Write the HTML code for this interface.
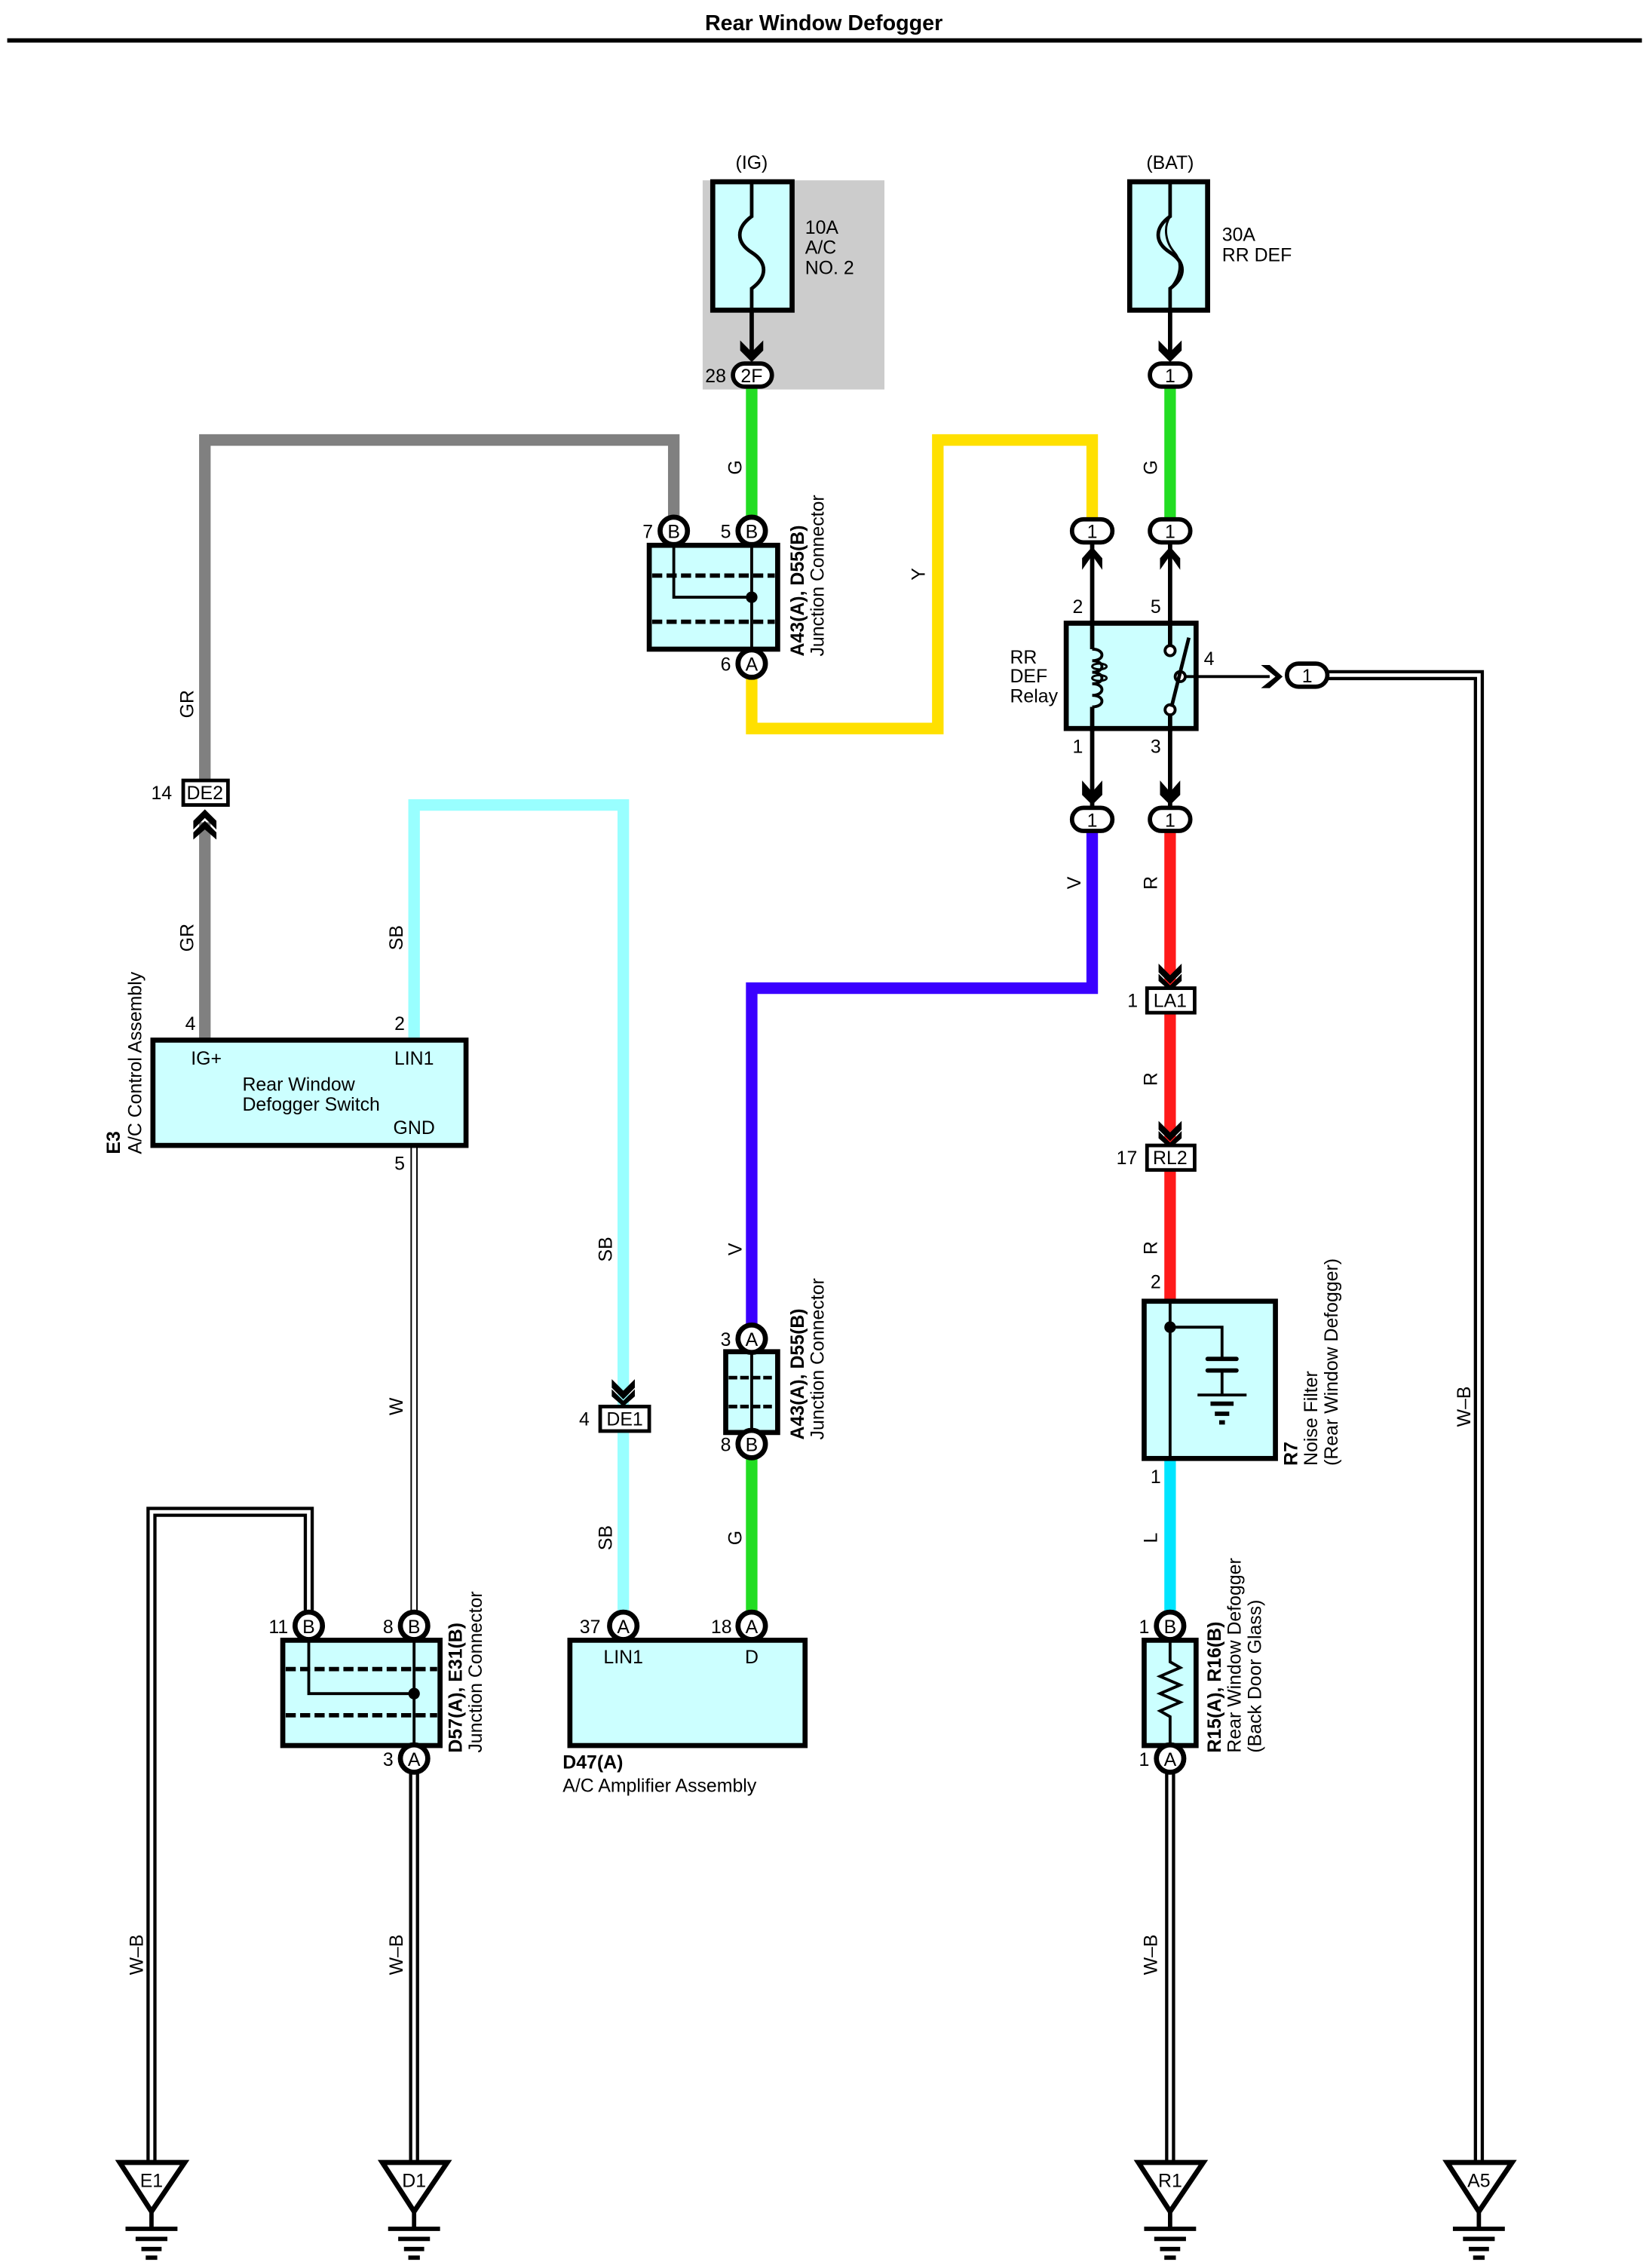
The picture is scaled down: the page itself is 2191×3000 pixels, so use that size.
<!DOCTYPE html>
<html><head><meta charset="utf-8"><style>
html,body{margin:0;padding:0;background:#fff}
svg{display:block}
text{font-family:"Liberation Sans",sans-serif;font-size:13px;fill:#000}
.b{font-weight:bold}
.c{text-anchor:middle}
</style></head><body>
<svg width="2191" height="3000" viewBox="0 0 1145 1568" preserveAspectRatio="none" xmlns="http://www.w3.org/2000/svg">
<rect width="1145" height="1568" fill="#fff"/>
<text x="571" y="21" class="b c" style="font-size:15px">Rear Window Defogger</text>
<line x1="5" y1="28" x2="1138" y2="28" stroke="#000" stroke-width="3"/>

<!-- IG fuse -->
<rect x="487" y="125" width="126" height="145" fill="#cccccc"/>
<text x="521" y="117" class="c">(IG)</text>
<rect x="494" y="126" width="55" height="89" fill="#ccffff" stroke="#000" stroke-width="3.5"/>
<path d="M521 126 V150 C510 158 510 168 521 175 C532 182 532 192 521 200 V215" fill="none" stroke="#000" stroke-width="2.5"/>
<text x="558" y="162">10A</text><text x="558" y="176">A/C</text><text x="558" y="190">NO. 2</text>
<line x1="521" y1="215" x2="521" y2="248" stroke="#000" stroke-width="3"/>
<path d="M513 236 L521 244 L529 236 L529 243 L521 251 L513 243Z" fill="#000"/>

<!-- BAT fuse -->
<text x="811" y="117" class="c">(BAT)</text>
<rect x="783" y="126" width="54" height="89" fill="#ccffff" stroke="#000" stroke-width="3.5"/>
<path d="M811 126 V150 C800 158 800 168 811 175 C822 182 822 192 811 200 V215" fill="none" stroke="#000" stroke-width="2.5"/>
<path d="M811 150 C806 158 808 168 814 175 C820 182 818 192 811 200" fill="none" stroke="#000" stroke-width="1.5"/>
<text x="847" y="167">30A</text><text x="847" y="181">RR DEF</text>
<line x1="811" y1="215" x2="811" y2="248" stroke="#000" stroke-width="3"/>
<path d="M803 236 L811 244 L819 236 L819 243 L811 251 L803 243Z" fill="#000"/>

<!-- wires -->
<g fill="none" stroke-linejoin="miter">
<path d="M521 268 V360" stroke="#22dd22" stroke-width="8"/>
<path d="M811 268 V360" stroke="#22dd22" stroke-width="8"/>
<path d="M467 360 V305 H142 V541" stroke="#808080" stroke-width="8"/>
<path d="M142 570 V720" stroke="#808080" stroke-width="8"/>
<path d="M521 470 V505 H650 V305 H757 V360" stroke="#ffe000" stroke-width="8"/>
<path d="M757 576 V685 H521 V920" stroke="#3a00ff" stroke-width="8"/>
<path d="M811 576 V685" stroke="#ff1a1a" stroke-width="8"/>
<path d="M811 702 V795" stroke="#ff1a1a" stroke-width="8"/>
<path d="M811 811 V902" stroke="#ff1a1a" stroke-width="8"/>
<path d="M811 1012 V1118" stroke="#00e5ff" stroke-width="8"/>
<path d="M287 720 V558 H432 V975" stroke="#99ffff" stroke-width="8"/>
<path d="M432 992 V1118" stroke="#99ffff" stroke-width="8"/>
<path d="M521 1010 V1118" stroke="#22dd22" stroke-width="8"/>
<!-- W -->
<path d="M287 795 V1118" stroke="#000" stroke-width="5"/>
<path d="M287 795 V1118" stroke="#fff" stroke-width="3"/>
<!-- W-B -->
<g stroke="#000" stroke-width="7">
<path d="M214 1118 V1048 H105 V1500"/>
<path d="M287 1228 V1500"/>
<path d="M811 1228 V1500"/>
<path d="M920 468 H1025 V1500"/>
</g>
<g stroke="#fff" stroke-width="2.5">
<path d="M214 1118 V1048 H105 V1500"/>
<path d="M287 1228 V1500"/>
<path d="M811 1228 V1500"/>
<path d="M920 468 H1025 V1500"/>
</g>
</g>

<!-- wire labels -->
<g>
<text transform="translate(514,324) rotate(-90)" class="c">G</text>
<text transform="translate(641,398) rotate(-90)" class="c">Y</text>
<text transform="translate(802,324) rotate(-90)" class="c">G</text>
<text transform="translate(134,488) rotate(-90)" class="c">GR</text>
<text transform="translate(134,650) rotate(-90)" class="c">GR</text>
<text transform="translate(279,650) rotate(-90)" class="c">SB</text>
<text transform="translate(424,866) rotate(-90)" class="c">SB</text>
<text transform="translate(279,975) rotate(-90)" class="c">W</text>
<text transform="translate(424,1066) rotate(-90)" class="c">SB</text>
<text transform="translate(514,866) rotate(-90)" class="c">V</text>
<text transform="translate(514,1066) rotate(-90)" class="c">G</text>
<text transform="translate(749,612) rotate(-90)" class="c">V</text>
<text transform="translate(802,612) rotate(-90)" class="c">R</text>
<text transform="translate(802,748) rotate(-90)" class="c">R</text>
<text transform="translate(802,865) rotate(-90)" class="c">R</text>
<text transform="translate(802,1066) rotate(-90)" class="c">L</text>
<text transform="translate(1019,975) rotate(-90)" class="c">W–B</text>
<text transform="translate(99,1355) rotate(-90)" class="c">W–B</text>
<text transform="translate(279,1355) rotate(-90)" class="c">W–B</text>
<text transform="translate(802,1355) rotate(-90)" class="c">W–B</text>
</g>

<!-- 2F and oval connectors -->
<rect x="508" y="252" width="27" height="16" rx="8" fill="#fff" stroke="#000" stroke-width="3"/>
<text x="521" y="265" class="c">2F</text><text x="496" y="265" class="c">28</text>
<rect x="797" y="252" width="28" height="16" rx="8" fill="#fff" stroke="#000" stroke-width="3"/>
<text x="811" y="265" class="c">1</text>
<rect x="743" y="360" width="28" height="16" rx="8" fill="#fff" stroke="#000" stroke-width="3"/>
<text x="757" y="373" class="c">1</text>
<rect x="797" y="360" width="28" height="16" rx="8" fill="#fff" stroke="#000" stroke-width="3"/>
<text x="811" y="373" class="c">1</text>
<rect x="743" y="560" width="28" height="16" rx="8" fill="#fff" stroke="#000" stroke-width="3"/>
<text x="757" y="573" class="c">1</text>
<rect x="797" y="560" width="28" height="16" rx="8" fill="#fff" stroke="#000" stroke-width="3"/>
<text x="811" y="573" class="c">1</text>
<rect x="892" y="460" width="28" height="16" rx="8" fill="#fff" stroke="#000" stroke-width="3"/>
<text x="906" y="473" class="c">1</text>

<!-- Relay -->
<line x1="757" y1="376" x2="757" y2="560" stroke="#000" stroke-width="3"/>
<line x1="811" y1="376" x2="811" y2="560" stroke="#000" stroke-width="3"/>
<path d="M750 395 L757 385 L764 395 L764 387 L757 379 L750 387Z" fill="#000"/>
<path d="M804 395 L811 385 L818 395 L818 387 L811 379 L804 387Z" fill="#000"/>
<path d="M750 541 L757 549 L764 541 L764 551 L757 558 L750 551Z" fill="#000"/>
<path d="M804 541 L811 549 L818 541 L818 551 L811 558 L804 551Z" fill="#000"/>
<rect x="739" y="432" width="90" height="73" fill="#ccffff" stroke="#000" stroke-width="3.5"/>
<line x1="757" y1="430" x2="757" y2="507" stroke="#000" stroke-width="3"/>
<rect x="752" y="450" width="12" height="40" fill="#ccffff"/>
<path d="M757 450 C766 450 766 458 757 458 C766 458 766 466 757 466 C766 466 766 474 757 474 C766 474 766 482 757 482 C766 482 766 490 757 490" fill="none" stroke="#000" stroke-width="2"/>
<ellipse cx="762" cy="462" rx="5" ry="2" fill="none" stroke="#000" stroke-width="1.5"/>
<ellipse cx="762" cy="470" rx="5" ry="2" fill="none" stroke="#000" stroke-width="1.5"/>
<rect x="805" y="440" width="20" height="60" fill="#ccffff"/>
<line x1="811" y1="430" x2="811" y2="447" stroke="#000" stroke-width="3"/>
<line x1="811" y1="495" x2="811" y2="507" stroke="#000" stroke-width="3"/>
<circle cx="811" cy="451" r="3.5" fill="#fff" stroke="#000" stroke-width="2"/>
<circle cx="811" cy="492" r="3.5" fill="#fff" stroke="#000" stroke-width="2"/>
<circle cx="818" cy="469" r="3.5" fill="#fff" stroke="#000" stroke-width="2"/>
<line x1="812" y1="490" x2="824" y2="442" stroke="#000" stroke-width="2.5"/>
<line x1="822" y1="469" x2="880" y2="469" stroke="#000" stroke-width="2"/>
<path d="M874 461 L884 469 L874 477 L880 477 L889 469 L880 461Z" fill="#000"/>
<text x="747" y="425" class="c">2</text><text x="801" y="425" class="c">5</text>
<text x="747" y="522" class="c">1</text><text x="801" y="522" class="c">3</text>
<text x="838" y="461" class="c">4</text>
<text x="700" y="460">RR</text><text x="700" y="473">DEF</text><text x="700" y="487">Relay</text>

<!-- Junction A43 top -->
<rect x="450" y="378" width="89" height="72" fill="#ccffff" stroke="#000" stroke-width="3.5"/>
<line x1="452" y1="399" x2="537" y2="399" stroke="#000" stroke-width="3" stroke-dasharray="7,3"/>
<line x1="452" y1="431" x2="537" y2="431" stroke="#000" stroke-width="3" stroke-dasharray="7,3"/>
<path d="M467 378 V414 H521" fill="none" stroke="#000" stroke-width="2"/>
<line x1="521" y1="378" x2="521" y2="450" stroke="#000" stroke-width="2"/>
<circle cx="521" cy="414" r="4" fill="#000"/>
<circle cx="467" cy="368" r="9.5" fill="#fff" stroke="#000" stroke-width="3.5"/><text x="467" y="373" class="c">B</text>
<circle cx="521" cy="368" r="9.5" fill="#fff" stroke="#000" stroke-width="3.5"/><text x="521" y="373" class="c">B</text>
<circle cx="521" cy="460" r="9.5" fill="#fff" stroke="#000" stroke-width="3.5"/><text x="521" y="465" class="c">A</text>
<text x="449" y="373" class="c">7</text><text x="503" y="373" class="c">5</text><text x="503" y="465" class="c">6</text>
<text transform="translate(557,455) rotate(-90)" class="b">A43(A), D55(B)</text>
<text transform="translate(571,455) rotate(-90)">Junction Connector</text>

<!-- DE2 -->
<rect x="127" y="541" width="31" height="17" fill="#fff" stroke="#000" stroke-width="2.5"/>
<text x="142" y="554" class="c">DE2</text><text x="112" y="554" class="c">14</text>
<path d="M134 569 L142 561 L150 569 L150 575 L142 567 L134 575Z" fill="#000"/>
<path d="M134 577 L142 569 L150 577 L150 582 L142 575 L134 582Z" fill="#000"/>

<!-- Switch E3 -->
<rect x="106" y="721" width="217" height="73" fill="#ccffff" stroke="#000" stroke-width="3.5"/>
<text x="143" y="738" class="c">IG+</text><text x="287" y="738" class="c">LIN1</text>
<text x="168" y="756">Rear Window</text><text x="168" y="770">Defogger Switch</text>
<text x="287" y="786" class="c">GND</text>
<text x="132" y="714" class="c">4</text><text x="277" y="714" class="c">2</text><text x="277" y="811" class="c">5</text>
<text transform="translate(83,800) rotate(-90)" class="b">E3</text>
<text transform="translate(98,800) rotate(-90)">A/C Control Assembly</text>

<!-- DE1 -->
<path d="M424 956 L432 964 L440 956 L440 962 L432 970 L424 962Z" fill="#000"/>
<path d="M424 963 L432 971 L440 963 L440 968 L432 975 L424 968Z" fill="#000"/>
<rect x="416" y="975" width="34" height="17" fill="#fff" stroke="#000" stroke-width="2.5"/>
<text x="433" y="988" class="c">DE1</text><text x="405" y="988" class="c">4</text>

<!-- small junction A43 -->
<rect x="503" y="937" width="36" height="56" fill="#ccffff" stroke="#000" stroke-width="3.5"/>
<line x1="505" y1="955" x2="537" y2="955" stroke="#000" stroke-width="2.5" stroke-dasharray="6,2"/>
<line x1="505" y1="975" x2="537" y2="975" stroke="#000" stroke-width="2.5" stroke-dasharray="6,2"/>
<line x1="521" y1="937" x2="521" y2="993" stroke="#000" stroke-width="2"/>
<circle cx="521" cy="928" r="9.5" fill="#fff" stroke="#000" stroke-width="3.5"/><text x="521" y="933" class="c">A</text>
<circle cx="521" cy="1001" r="9.5" fill="#fff" stroke="#000" stroke-width="3.5"/><text x="521" y="1006" class="c">B</text>
<text x="503" y="933" class="c">3</text><text x="503" y="1006" class="c">8</text>
<text transform="translate(557,998) rotate(-90)" class="b">A43(A), D55(B)</text>
<text transform="translate(571,998) rotate(-90)">Junction Connector</text>

<!-- LA1, RL2 -->
<path d="M803 668 L811 676 L819 668 L819 674 L811 682 L803 674Z" fill="#000"/>
<path d="M803 675 L811 683 L819 675 L819 680 L811 687 L803 680Z" fill="#000"/>
<rect x="795" y="685" width="33" height="17" fill="#fff" stroke="#000" stroke-width="2.5"/>
<text x="811" y="698" class="c">LA1</text><text x="785" y="698" class="c">1</text>
<path d="M803 777 L811 785 L819 777 L819 783 L811 791 L803 783Z" fill="#000"/>
<path d="M803 784 L811 792 L819 784 L819 789 L811 796 L803 789Z" fill="#000"/>
<rect x="795" y="794" width="33" height="17" fill="#fff" stroke="#000" stroke-width="2.5"/>
<text x="811" y="807" class="c">RL2</text><text x="781" y="807" class="c">17</text>

<!-- Noise filter -->
<rect x="793" y="902" width="91" height="109" fill="#ccffff" stroke="#000" stroke-width="3.5"/>
<line x1="811" y1="902" x2="811" y2="1011" stroke="#000" stroke-width="2"/>
<circle cx="811" cy="920" r="4" fill="#000"/>
<path d="M811 920 H847 V941" fill="none" stroke="#000" stroke-width="2"/>
<line x1="837" y1="942" x2="857" y2="942" stroke="#000" stroke-width="3" stroke-linecap="round"/>
<line x1="837" y1="950" x2="857" y2="950" stroke="#000" stroke-width="3" stroke-linecap="round"/>
<line x1="847" y1="950" x2="847" y2="967" stroke="#000" stroke-width="2"/>
<line x1="830" y1="967" x2="864" y2="967" stroke="#000" stroke-width="2"/>
<line x1="839" y1="973" x2="855" y2="973" stroke="#000" stroke-width="3"/>
<line x1="842" y1="980" x2="852" y2="980" stroke="#000" stroke-width="3"/>
<line x1="845" y1="986" x2="849" y2="986" stroke="#000" stroke-width="3"/>
<text x="801" y="893" class="c">2</text><text x="801" y="1028" class="c">1</text>
<text transform="translate(899,1016) rotate(-90)" class="b">R7</text>
<text transform="translate(913,1016) rotate(-90)">Noise Filter</text>
<text transform="translate(927,1016) rotate(-90)">(Rear Window Defogger)</text>

<!-- R15 defogger -->
<rect x="793" y="1137" width="36" height="73" fill="#ccffff" stroke="#000" stroke-width="3.5"/>
<path d="M811 1137 V1152 L818 1156 L804 1162 L818 1168 L804 1174 L818 1180 L804 1186 L811 1190 V1210" fill="none" stroke="#000" stroke-width="2"/>
<circle cx="811" cy="1127" r="9.5" fill="#fff" stroke="#000" stroke-width="3.5"/><text x="811" y="1132" class="c">B</text>
<circle cx="811" cy="1219" r="9.5" fill="#fff" stroke="#000" stroke-width="3.5"/><text x="811" y="1224" class="c">A</text>
<text x="793" y="1132" class="c">1</text><text x="793" y="1224" class="c">1</text>
<text transform="translate(846,1215) rotate(-90)" class="b">R15(A), R16(B)</text>
<text transform="translate(860,1215) rotate(-90)">Rear Window Defogger</text>
<text transform="translate(874,1215) rotate(-90)">(Back Door Glass)</text>

<!-- D57 junction -->
<rect x="196" y="1137" width="109" height="73" fill="#ccffff" stroke="#000" stroke-width="3.5"/>
<line x1="198" y1="1157" x2="303" y2="1157" stroke="#000" stroke-width="3" stroke-dasharray="7,3"/>
<line x1="198" y1="1189" x2="303" y2="1189" stroke="#000" stroke-width="3" stroke-dasharray="7,3"/>
<path d="M214 1137 V1174 H287" fill="none" stroke="#000" stroke-width="2"/>
<line x1="287" y1="1137" x2="287" y2="1210" stroke="#000" stroke-width="2"/>
<circle cx="287" cy="1174" r="4" fill="#000"/>
<circle cx="214" cy="1127" r="9.5" fill="#fff" stroke="#000" stroke-width="3.5"/><text x="214" y="1132" class="c">B</text>
<circle cx="287" cy="1127" r="9.5" fill="#fff" stroke="#000" stroke-width="3.5"/><text x="287" y="1132" class="c">B</text>
<circle cx="287" cy="1219" r="9.5" fill="#fff" stroke="#000" stroke-width="3.5"/><text x="287" y="1224" class="c">A</text>
<text x="193" y="1132" class="c">11</text><text x="269" y="1132" class="c">8</text><text x="269" y="1224" class="c">3</text>
<text transform="translate(320,1215) rotate(-90)" class="b">D57(A), E31(B)</text>
<text transform="translate(334,1215) rotate(-90)">Junction Connector</text>

<!-- Amplifier -->
<rect x="395" y="1137" width="163" height="73" fill="#ccffff" stroke="#000" stroke-width="3.5"/>
<circle cx="432" cy="1127" r="9.5" fill="#fff" stroke="#000" stroke-width="3.5"/><text x="432" y="1132" class="c">A</text>
<circle cx="521" cy="1127" r="9.5" fill="#fff" stroke="#000" stroke-width="3.5"/><text x="521" y="1132" class="c">A</text>
<text x="409" y="1132" class="c">37</text><text x="500" y="1132" class="c">18</text>
<text x="432" y="1153" class="c">LIN1</text><text x="521" y="1153" class="c">D</text>
<text x="390" y="1226" class="b">D47(A)</text>
<text x="390" y="1242">A/C Amplifier Assembly</text>

<!-- Grounds -->
<g fill="#fff" stroke="#000" stroke-width="3.5">
<path d="M83 1499 H128 L105 1533Z"/>
<path d="M265 1499 H310 L287 1533Z"/>
<path d="M789 1499 H834 L811 1533Z"/>
<path d="M1003 1499 H1048 L1025 1533Z"/>
</g>
<g stroke="#000" stroke-width="3">
<path d="M105 1533 V1545 M87 1545 H123 M94 1552 H116 M98 1559 H112 M101 1565 H109"/>
<path d="M287 1533 V1545 M269 1545 H305 M276 1552 H298 M280 1559 H294 M283 1565 H291"/>
<path d="M811 1533 V1545 M793 1545 H829 M800 1552 H822 M804 1559 H818 M807 1565 H815"/>
<path d="M1025 1533 V1545 M1007 1545 H1043 M1014 1552 H1036 M1018 1559 H1032 M1021 1565 H1029"/>
</g>
<text x="105" y="1516" class="c">E1</text><text x="287" y="1516" class="c">D1</text>
<text x="811" y="1516" class="c">R1</text><text x="1025" y="1516" class="c">A5</text>
</svg>
</body></html>
